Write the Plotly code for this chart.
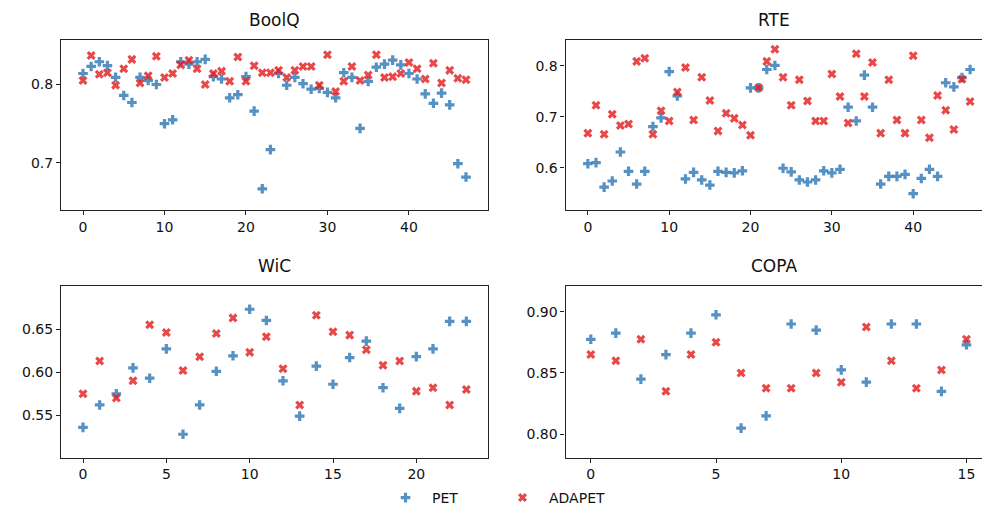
import plotly.graph_objects as go

# ---------------- data ----------------
boolq_pet = [0.814, 0.823, 0.829, 0.824, 0.809, 0.786, 0.777, 0.809, 0.805, 0.800,
             0.750, 0.755, 0.829, 0.826, 0.829, 0.832, 0.810, 0.807, 0.783, 0.787,
             0.810, 0.766, 0.667, 0.717, 0.814, 0.799, 0.809, 0.801, 0.794, 0.795,
             0.790, 0.783, 0.815, 0.809, 0.744, 0.804, 0.822, 0.826, 0.831, 0.825,
             0.814, 0.807, 0.788, 0.776, 0.789, 0.774, 0.699, 0.682]
boolq_adapet = [0.805, 0.837, 0.813, 0.815, 0.799, 0.820, 0.832, 0.802, 0.811, 0.836,
                0.809, 0.814, 0.825, 0.831, 0.820, 0.800, 0.814, 0.817, 0.804, 0.835,
                0.804, 0.824, 0.815, 0.815, 0.818, 0.809, 0.818, 0.823, 0.823, 0.799,
                0.838, 0.791, 0.804, 0.823, 0.805, 0.812, 0.838, 0.809, 0.810, 0.814,
                0.828, 0.820, 0.807, 0.827, 0.802, 0.818, 0.808, 0.806]

rte_pet = [0.608, 0.610, 0.562, 0.574, 0.631, 0.593, 0.568, 0.593, 0.681, 0.698,
           0.789, 0.741, 0.578, 0.591, 0.576, 0.566, 0.593, 0.591, 0.590, 0.594,
           0.757, 0.757, 0.793, 0.801, 0.599, 0.592, 0.576, 0.572, 0.576, 0.594,
           0.590, 0.597, 0.719, 0.692, 0.782, 0.719, 0.568, 0.583, 0.583, 0.587,
           0.549, 0.579, 0.597, 0.583, 0.767, 0.759, 0.777, 0.793]
rte_adapet = [0.668, 0.723, 0.666, 0.705, 0.683, 0.686, 0.809, 0.815, 0.666, 0.712,
              0.692, 0.749, 0.797, 0.694, 0.778, 0.732, 0.672, 0.707, 0.697, 0.684,
              0.664, 0.757, 0.809, 0.833, 0.778, 0.723, 0.773, 0.731, 0.692, 0.692,
              0.784, 0.740, 0.688, 0.824, 0.740, 0.807, 0.668, 0.773, 0.694, 0.668,
              0.820, 0.694, 0.659, 0.742, 0.713, 0.675, 0.774, 0.730]

wic_pet = [0.536, 0.562, 0.575, 0.605, 0.593, 0.627, 0.528, 0.562, 0.601, 0.619,
           0.673, 0.660, 0.590, 0.549, 0.607, 0.586, 0.617, 0.636, 0.582, 0.558,
           0.618, 0.627, 0.659, 0.659]
wic_adapet = [0.575, 0.613, 0.570, 0.590, 0.655, 0.646, 0.602, 0.618, 0.645, 0.663,
              0.623, 0.641, 0.604, 0.562, 0.666, 0.647, 0.643, 0.626, 0.608, 0.613,
              0.578, 0.582, 0.562, 0.580]

copa_pet = [0.8775, 0.8825, 0.845, 0.865, 0.8825, 0.8975, 0.805, 0.815, 0.890, 0.885,
            0.8525, 0.8425, 0.890, 0.890, 0.835, 0.873]
copa_adapet = [0.865, 0.860, 0.8775, 0.835, 0.865, 0.875, 0.850, 0.8375, 0.8375, 0.850,
               0.8425, 0.8875, 0.860, 0.8375, 0.8525, 0.8775]

titles = ["BoolQ", "RTE", "WiC", "COPA"]
series_names = ["PET", "ADAPET"]

boolq_yticks = [0.7, 0.8]
rte_yticks = [0.6, 0.7, 0.8]
wic_yticks = [0.55, 0.60, 0.65]
copa_yticks = [0.80, 0.85, 0.90]
boolq_xticks = [0, 10, 20, 30, 40]
rte_xticks = [0, 10, 20, 30, 40]
wic_xticks = [0, 5, 10, 15, 20]
copa_xticks = [0, 5, 10, 15]

# ---------------- styling / layout ----------------
W, H = 982, 508
PET_COLOR = "rgba(55,126,184,0.85)"
ADA_COLOR = "rgba(228,26,28,0.8)"
FONT = "DejaVu Sans"

panels = [
    dict(pet=boolq_pet, ada=boolq_adapet, xt=boolq_xticks, yt=boolq_yticks, yfmt=".1f",
         xr=[-2.7, 49.7], yr=[0.640, 0.8567], px=(61, 488), py=(40, 210)),
    dict(pet=rte_pet, ada=rte_adapet, xt=rte_xticks, yt=rte_yticks, yfmt=".1f",
         xr=[-2.75, 48.4], yr=[0.517, 0.851], px=(565.5, 981.5), py=(40, 210)),
    dict(pet=wic_pet, ada=wic_adapet, xt=wic_xticks, yt=wic_yticks, yfmt=".2f",
         xr=[-1.32, 24.3], yr=[0.501, 0.700], px=(61, 488), py=(286, 457.5)),
    dict(pet=copa_pet, ada=copa_adapet, xt=copa_xticks, yt=copa_yticks, yfmt=".2f",
         xr=[-1.01, 15.6], yr=[0.781, 0.921], px=(565.5, 981.5), py=(286, 457.5)),
]

fig = go.Figure()
annotations = []
for k, p in enumerate(panels):
    sfx = "" if k == 0 else str(k + 1)
    xs = list(range(len(p["pet"])))
    fig.add_trace(go.Scatter(
        x=xs, y=p["pet"], mode="markers", name=series_names[0],
        marker=dict(symbol="cross", size=8, color=PET_COLOR, line=dict(width=0)),
        xaxis="x" + sfx, yaxis="y" + sfx, showlegend=(k == 0), legendgroup="pet"))
    fig.add_trace(go.Scatter(
        x=xs, y=p["ada"], mode="markers", name=series_names[1],
        marker=dict(symbol="x", size=8, color=ADA_COLOR, line=dict(width=0)),
        xaxis="x" + sfx, yaxis="y" + sfx, showlegend=(k == 0), legendgroup="ada"))

    axis_common = dict(showline=True, mirror=True, linecolor="#222", linewidth=1.1,
                       ticks="outside", ticklen=4, tickcolor="#222", tickwidth=1,
                       showgrid=False, zeroline=False, automargin=False,
                       tickfont=dict(family=FONT, size=14, color="#111"))
    fig.update_layout(**{
        "xaxis" + sfx: dict(axis_common, domain=[p["px"][0] / W, p["px"][1] / W],
                            range=p["xr"], tickvals=p["xt"], anchor="y" + sfx),
        "yaxis" + sfx: dict(axis_common, domain=[1 - p["py"][1] / H, 1 - p["py"][0] / H],
                            range=p["yr"], tickvals=p["yt"], tickformat=p["yfmt"],
                            anchor="x" + sfx),
    })
    annotations.append(dict(
        text=titles[k], xref="paper", yref="paper",
        x=(p["px"][0] + p["px"][1]) / 2 / W, y=1 - (p["py"][0] - 20) / H,
        xanchor="center", yanchor="middle", showarrow=False,
        font=dict(family=FONT, size=17, color="#111")))

fig.update_layout(
    width=W, height=H, margin=dict(l=0, r=0, t=0, b=0, autoexpand=False),
    paper_bgcolor="white", plot_bgcolor="white",
    annotations=annotations, hovermode=False,
    legend=dict(orientation="h", x=379 / W, xanchor="left", y=-6 / H, yanchor="bottom",
                font=dict(family=FONT, size=14, color="#111"),
                entrywidth=59, entrywidthmode="pixels",
                bgcolor="rgba(0,0,0,0)", itemwidth=43),
)

fig.write_html("out.html", config={"displayModeBar": False},
               post_script="document.body.style.margin='0px';document.body.style.overflow='hidden';")
